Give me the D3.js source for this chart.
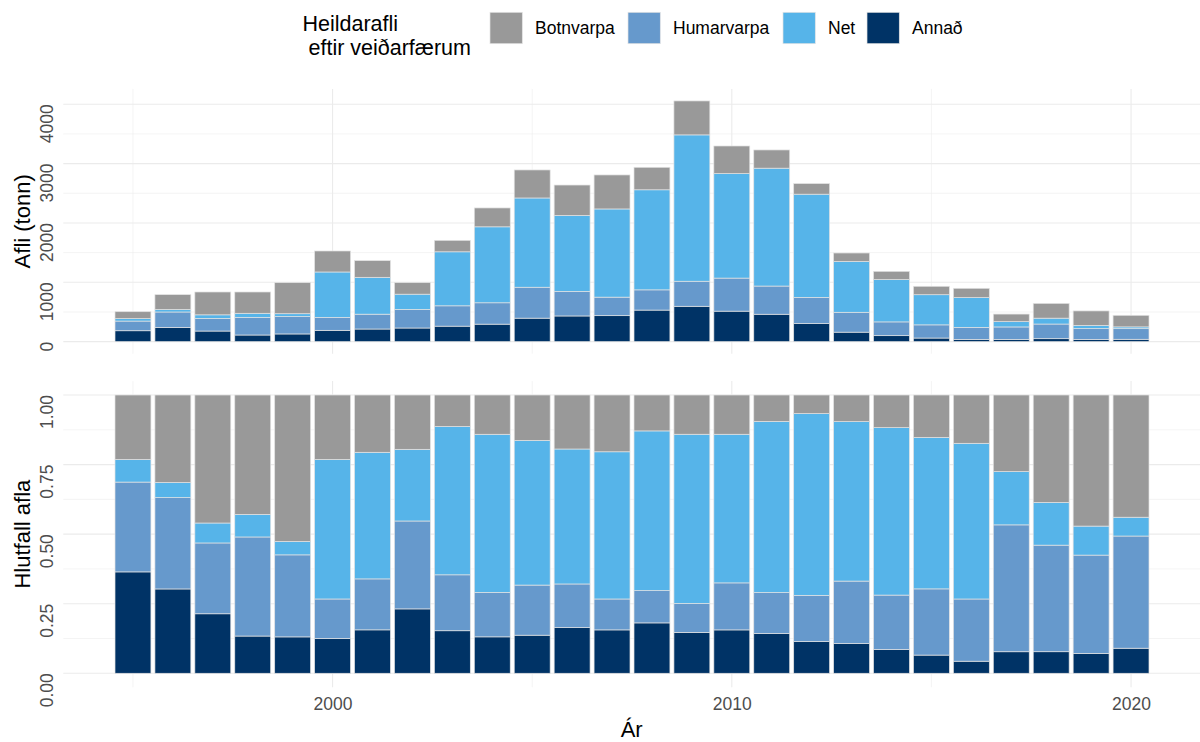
<!DOCTYPE html>
<html>
<head>
<meta charset="utf-8">
<script src="https://cdn.jsdelivr.net/npm/d3@7"></script>
<style>
  html, body { margin: 0; padding: 0; background: #fff; }
  svg { display: block; font-family: "Liberation Sans", Arial, sans-serif; }
</style>
</head>
<body>
<svg id="chart" width="1200" height="742"></svg>
<script>
// ---- Data ----
const years = [1995,1996,1997,1998,1999,2000,2001,2002,2003,2004,2005,2006,2007,2008,2009,2010,2011,2012,2013,2014,2015,2016,2017,2018,2019,2020];
const series = ["Botnvarpa", "Humarvarpa", "Net", "Annað"];
const annad      = [184,240,179,112,130,191,213,230,261,295,396,433,438,532,596,514,462,304,160,101, 61, 39, 36, 50, 37, 40];
const humarvarpa = [163,260,213,298,293,217,250,314,343,360,521,414,312,341,422,557,475,442,335,232,222,201,212,247,183,179];
const net        = [ 41, 43, 60, 68, 48,766,621,256,910,1280,1504,1280,1486,1686,2466,1761,1986,1739,856,713,508,503, 89, 99, 54, 30];
const botnvarpa  = [117,249,385,359,523,354,281,194,193,318,472,512,573,379,572,465,307,178,143,139,142,156,128,249,244,195];
const colors = ["#999999", "#6699CC", "#56B4E9", "#003366"];
const topTicks = [0, 1000, 2000, 3000, 4000];
const topTickLabels = ["0", "1000", "2000", "3000", "4000"];
const botTicks = [0, 0.25, 0.5, 0.75, 1];
const botTickLabels = ["0.00", "0.25", "0.50", "0.75", "1.00"];
const xTicks = [2000, 2010, 2020];
const xMinor = [1995, 2005, 2015];
const legendTitle = ["Heildarafli", " eftir veiðarfærum"];
const yTitleTop = "Afli (tonn)";
const yTitleBot = "Hlutfall afla";
const xTitle = "Ár";

// ---- Build table ----
const rows = years.map((y, i) => ({
  year: y, "Botnvarpa": botnvarpa[i], "Humarvarpa": humarvarpa[i], "Net": net[i], "Annað": annad[i]
}));
const stackKeys = ["Annað", "Humarvarpa", "Net", "Botnvarpa"]; // bottom to top
const colorScale = d3.scaleOrdinal().domain(series).range(colors);

const svg = d3.select("#chart");
const W = 1200;

// ---- Scales ----
const x = d3.scaleLinear().domain([1993.255, 2021.745]).range([63.3, 1200.7]);
const barW = x(1995.45) - x(1994.55);

const maxTotal = d3.max(rows, r => stackKeys.reduce((s, k) => s + r[k], 0));
const yTop = d3.scaleLinear().domain([-0.05 * maxTotal, 1.05 * maxTotal]).range([353.7, 88.9]);
const yBot = d3.scaleLinear().domain([-0.05, 1.05]).range([687.2, 381.1]);

const panelL = 63.3, panelR = W;

function grid(yScale, ticks, yMin, yMax) {
  const g = svg.append("g");
  for (let i = 0; i < ticks.length - 1; i++) {
    const m = (ticks[i] + ticks[i + 1]) / 2;
    g.append("line").attr("x1", panelL).attr("x2", panelR)
      .attr("y1", yScale(m)).attr("y2", yScale(m))
      .attr("stroke", "#ededed").attr("stroke-width", 0.6);
  }
  xMinor.forEach(v => {
    g.append("line").attr("x1", x(v)).attr("x2", x(v)).attr("y1", yMin).attr("y2", yMax)
      .attr("stroke", "#ededed").attr("stroke-width", 0.6);
  });
  ticks.forEach(t => {
    g.append("line").attr("x1", panelL).attr("x2", panelR)
      .attr("y1", yScale(t)).attr("y2", yScale(t))
      .attr("stroke", "#ebebeb").attr("stroke-width", 1.1);
  });
  xTicks.forEach(v => {
    g.append("line").attr("x1", x(v)).attr("x2", x(v)).attr("y1", yMin).attr("y2", yMax)
      .attr("stroke", "#ebebeb").attr("stroke-width", 1.1);
  });
}

grid(yTop, topTicks, 88.9, 353.7);
grid(yBot, botTicks, 381.1, 687.2);

// ---- Top panel: stacked absolute ----
const stackAbs = d3.stack().keys(stackKeys)(rows);
svg.append("g").selectAll("g").data(stackAbs).join("g")
  .attr("fill", d => colorScale(d.key))
  .selectAll("rect").data(d => d).join("rect")
  .attr("x", d => x(d.data.year) - barW / 2)
  .attr("width", barW)
  .attr("y", d => yTop(d[1]))
  .attr("height", d => yTop(d[0]) - yTop(d[1]))
  .attr("stroke", "#e3e3e3").attr("stroke-width", 0.7);

// ---- Bottom panel: stacked proportions ----
const stackRel = d3.stack().keys(stackKeys).offset(d3.stackOffsetExpand)(rows);
svg.append("g").selectAll("g").data(stackRel).join("g")
  .attr("fill", d => colorScale(d.key))
  .selectAll("rect").data(d => d).join("rect")
  .attr("x", d => x(d.data.year) - barW / 2)
  .attr("width", barW)
  .attr("y", d => yBot(d[1]))
  .attr("height", d => yBot(d[0]) - yBot(d[1]))
  .attr("stroke", "#e3e3e3").attr("stroke-width", 0.7);

// ---- Axis labels ----
const tickColor = "#4d4d4d";
const tickSize = 17.5;
function yLabels(yScale, ticks, labels) {
  const g = svg.append("g");
  ticks.forEach((t, i) => {
    g.append("text")
      .attr("transform", `translate(53,${yScale(t)}) rotate(-90)`)
      .attr("text-anchor", "end")
      .attr("font-size", tickSize)
      .attr("fill", tickColor)
      .text(labels[i]);
  });
}
yLabels(yTop, topTicks, topTickLabels);
yLabels(yBot, botTicks, botTickLabels);

const xAxis = d3.axisBottom(x).tickValues(xTicks).tickFormat(d3.format("d")).tickSize(0).tickPadding(0);
const gx = svg.append("g").attr("transform", "translate(0,698)").call(xAxis);
gx.select(".domain").remove();
gx.selectAll("text").attr("font-size", tickSize).attr("fill", tickColor)
  .attr("font-family", "Liberation Sans, Arial, sans-serif").attr("dy", "0.71em");

// ---- Axis titles ----
svg.append("text").attr("x", (panelL + panelR) / 2).attr("y", 737)
  .attr("text-anchor", "middle").attr("font-size", 22).attr("fill", "#000").text(xTitle);
svg.append("text").attr("transform", `translate(30,${(88.9 + 353.7) / 2}) rotate(-90)`)
  .attr("text-anchor", "middle").attr("font-size", 22).attr("fill", "#000").text(yTitleTop);
svg.append("text").attr("transform", `translate(30,${(381.1 + 687.2) / 2}) rotate(-90)`)
  .attr("text-anchor", "middle").attr("font-size", 22).attr("fill", "#000").text(yTitleBot);

// ---- Legend ----
const lg = svg.append("g");
const title = lg.append("text").attr("font-size", 21.5).attr("fill", "#000")
  .attr("xml:space", "preserve").style("white-space", "pre");
title.append("tspan").attr("x", 302.5).attr("y", 30.5).text(legendTitle[0]);
title.append("tspan").attr("x", 302.5).attr("y", 54.5).text(legendTitle[1]);
const keyX = [490, 628, 783, 867];
series.forEach((s, i) => {
  lg.append("rect").attr("x", keyX[i]).attr("y", 12.3).attr("width", 32.3).attr("height", 31.4)
    .attr("fill", colorScale(s)).attr("stroke", "#e3e3e3").attr("stroke-width", 0.7);
  lg.append("text").attr("x", keyX[i] + 45).attr("y", 28).attr("dy", "0.35em")
    .attr("font-size", 17.5).attr("fill", "#000").text(s);
});
</script>
</body>
</html>
